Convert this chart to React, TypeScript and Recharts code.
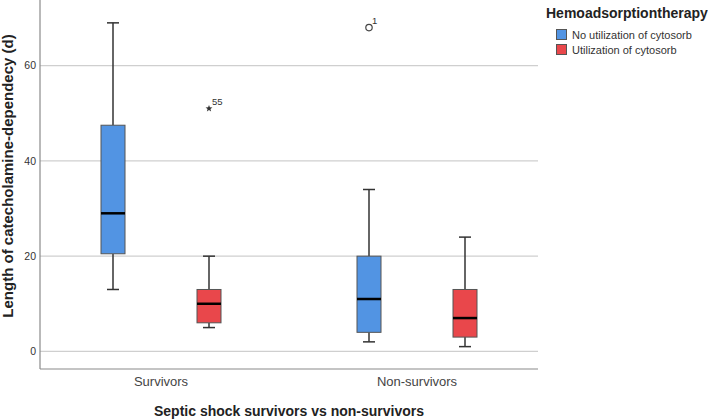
import React from 'react';
import { ComposedChart, Bar, XAxis, YAxis, CartesianGrid } from 'recharts';

const groups = ['Survivors', 'Non-survivors'];

// No utilization of cytosorb
const noMin = [13, 2];
const noQ1 = [20.5, 4];
const noMedian = [29, 11];
const noQ3 = [47.5, 20];
const noMax = [69, 34];
const noOutlier = [null, 68];
const noOutlierId = [null, '1'];

// Utilization of cytosorb
const useMin = [5, 1];
const useQ1 = [6, 3];
const useMedian = [10, 7];
const useQ3 = [13, 13];
const useMax = [20, 24];
const useExtreme = [51, null];
const useExtremeId = ['55', null];

const yTicks = [0, 20, 40, 60];

const BLUE = '#5294E3';
const RED = '#E9474B';
const FONT = '"Liberation Sans", Arial, sans-serif';

const data = groups.map((g, i) => ({
  group: g,
  no: [noMin[i], noMax[i]],
  use: [useMin[i], useMax[i]],
  noStats: { min: noMin[i], q1: noQ1[i], med: noMedian[i], q3: noQ3[i], max: noMax[i], out: noOutlier[i], outId: noOutlierId[i], kind: 'circle' },
  useStats: { min: useMin[i], q1: useQ1[i], med: useMedian[i], q3: useQ3[i], max: useMax[i], out: useExtreme[i], outId: useExtremeId[i], kind: 'star' },
}));

const starPoints = (cx: number, cy: number, r: number) => {
  const pts: string[] = [];
  for (let k = 0; k < 10; k++) {
    const rad = k % 2 === 0 ? r : r * 0.42;
    const a = -Math.PI / 2 + (k * Math.PI) / 5;
    pts.push(`${cx + rad * Math.cos(a)},${cy + rad * Math.sin(a)}`);
  }
  return pts.join(' ');
};

// one box plot; the bar spans [min, max], so its rect gives the y scale
const BoxShape = (props: any) => {
  const { x, y, width, height, payload, fill, statsKey } = props;
  const s = payload[statsKey];
  const per = height / (s.max - s.min);
  const py = (v: number) => y + (s.max - v) * per;
  const cx = x + width / 2;
  const cap = width / 4;
  return (
    <g>
      <line x1={cx} x2={cx} y1={py(s.max)} y2={py(s.q3)} stroke="#333" strokeWidth={1.5} />
      <line x1={cx} x2={cx} y1={py(s.q1)} y2={py(s.min)} stroke="#333" strokeWidth={1.5} />
      <line x1={cx - cap} x2={cx + cap} y1={py(s.max)} y2={py(s.max)} stroke="#333" strokeWidth={1.5} />
      <line x1={cx - cap} x2={cx + cap} y1={py(s.min)} y2={py(s.min)} stroke="#333" strokeWidth={1.5} />
      <rect x={x} y={py(s.q3)} width={width} height={py(s.q1) - py(s.q3)} fill={fill} stroke="#555" strokeWidth={1} />
      <line x1={x} x2={x + width} y1={py(s.med)} y2={py(s.med)} stroke="#000" strokeWidth={2.5} />
      {s.out != null && s.kind === 'circle' && (
        <circle cx={cx} cy={py(s.out)} r={3.2} fill="none" stroke="#444" strokeWidth={1.2} />
      )}
      {s.out != null && s.kind === 'star' && (
        <polygon points={starPoints(cx, py(s.out), 3.6)} fill="#333" />
      )}
      {s.out != null && (
        <text x={cx + 3} y={py(s.out) - 4} fontSize={9.5} fill="#333" fontFamily={FONT}>{s.outId}</text>
      )}
    </g>
  );
};

const YTitle = () => {
  const tx = 7;
  const ty = 176;
  return (
    <text x={tx} y={ty} transform={`rotate(-90, ${tx}, ${ty})`} textAnchor="middle" dominantBaseline="central"
      fontSize={15} fontWeight="bold" fill="#222" fontFamily={FONT}>
      Length of catecholamine-dependecy (d)
    </text>
  );
};

const XTitle = (props: any) => {
  const { viewBox } = props;
  return (
    <text x={viewBox.x + viewBox.width / 2} y={411} textAnchor="middle" dominantBaseline="central"
      fontSize={14} fontWeight="bold" fill="#222" fontFamily={FONT}>
      Septic shock survivors vs non-survivors
    </text>
  );
};

const legendItems = [
  { label: 'No utilization of cytosorb', color: BLUE },
  { label: 'Utilization of cytosorb', color: RED },
];

export default function App() {
  return (
    <div style={{ position: 'absolute', left: 0, top: 0, width: 708, height: 420, background: '#fff', fontFamily: FONT }}>
      <ComposedChart width={708} height={420} data={data} barGap={72}
        margin={{ top: 0, right: 170, bottom: 0, left: 0 }}>
        <CartesianGrid vertical={false} stroke="#cfcfcf" strokeWidth={1.2} x={40} width={498} syncWithTicks />
        <XAxis dataKey="group" height={51} padding={{ left: -7, right: -7 }}
          axisLine={{ stroke: '#8a8a8a', strokeWidth: 1.2 }} tickLine={false} tickSize={6} tickMargin={2}
          tick={{ fontSize: 13, fill: '#444' }} label={<XTitle />} />
        <YAxis width={40} domain={[-3.7, 73.8]} allowDataOverflow ticks={yTicks}
          axisLine={{ stroke: '#8a8a8a', strokeWidth: 1.2 }} tickLine={false} tickSize={2} tickMargin={2}
          tick={{ fontSize: 10.5, fill: '#333' }} label={<YTitle />} />
        <Bar dataKey="no" barSize={24} fill={BLUE} isAnimationActive={false}
          shape={(p: any) => <BoxShape {...p} statsKey="noStats" />} />
        <Bar dataKey="use" barSize={24} fill={RED} isAnimationActive={false}
          shape={(p: any) => <BoxShape {...p} statsKey="useStats" />} />
      </ComposedChart>
      <div style={{ position: 'absolute', left: 546, top: 5, color: '#222' }}>
        <div style={{ fontSize: 14, fontWeight: 'bold', lineHeight: '16px', marginBottom: 6 }}>Hemoadsorptiontherapy</div>
        {legendItems.map((it) => (
          <div key={it.label} style={{ display: 'flex', alignItems: 'center', marginLeft: 10, height: 15 }}>
            <span style={{ width: 9, height: 9, background: it.color, border: '1px solid #555', marginRight: 5 }} />
            <span style={{ fontSize: 11, color: '#333' }}>{it.label}</span>
          </div>
        ))}
      </div>
    </div>
  );
}
